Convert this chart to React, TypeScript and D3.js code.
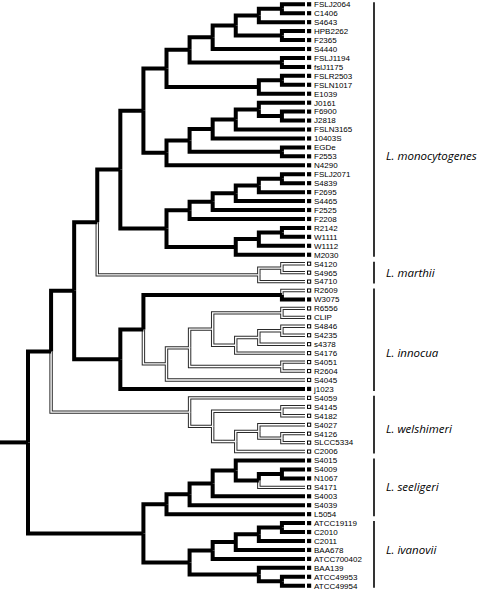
import React from 'react';
import * as d3 from 'd3';

// ---- Data: tree topology (Newick), clades ----
const monoA = "((((((FSLJ2064,C1406),S4643),(HPB2262,F2365)),S4440),(FSLJ1194,fslJ1175)),((FSLR2503,FSLN1017),E1039))";
const monoB = "(((((J0161,(F6900,J2818)),FSLN3165),10403S),(EGDe,F2553)),N4290)";
const monoC = "((((((FSLJ2071,S4839),F2695),S4465),F2525),F2208),(((R2142,W1111),W1112),M2030))";
const marthii = "((S4120,S4965),S4710)";
const innocua = "(((R2609,W3075),((((R6556,CLIP),(((S4846,S4235),s4378),S4176)),(S4051,R2604)),S4045)),j1023)";
const welshimeri = "(S4059,((S4145,S4182),((S4027,(S4126,SLCC5334)),C2006)))";
const seeligeri = "((((S4015,((S4009,N1067),S4171)),S4003),S4039),L5054)";
const ivanovii = "(((((ATCC19119,C2010),C2011),BAA678),ATCC700402),(BAA139,(ATCC49953,ATCC49954)))";

const treeNewick = `((((((${monoA},${monoB}),${monoC}),${marthii}),${innocua}),${welshimeri}),(${seeligeri},${ivanovii}))`;

// strains shown with open squares (others filled)
const openLeaves = [
  "S4120", "S4965", "S4710", "R2609", "R6556", "CLIP", "S4846", "S4235", "s4378", "S4176",
  "S4051", "R2604", "S4045", "S4059", "S4145", "S4182", "S4027", "S4126", "SLCC5334", "C2006", "S4171",
];

// species brackets: first leaf, last leaf, label anchor leaves
const speciesNames = ["L. monocytogenes", "L. marthii", "L. innocua", "L. welshimeri", "L. seeligeri", "L. ivanovii"];
const speciesFirst = ["FSLJ2064", "S4120", "R2609", "S4059", "S4015", "ATCC19119"];
const speciesLast = ["M2030", "S4710", "j1023", "C2006", "L5054", "ATCC49954"];
const speciesLabelAt = [["F2553"], ["S4965"], ["S4176"], ["S4027", "S4126"], ["S4171"], ["BAA678"]];

type TNode = { name?: string; children?: TNode[] };

function parseNewick(s: string): TNode {
  let i = 0;
  function node(): TNode {
    if (s[i] === '(') {
      i++;
      const children: TNode[] = [];
      while (true) {
        children.push(node());
        if (s[i] === ',') { i++; continue; }
        if (s[i] === ')') { i++; break; }
        break;
      }
      return { children };
    }
    let name = '';
    while (i < s.length && !',()'.includes(s[i])) name += s[i++];
    return { name: name.trim() };
  }
  return node();
}

const W = 480;
const H = 591;
const rootX = 28;
const tipX = 305;
const treeH = 590.4;

export default function App() {
  const openSet = new Set(openLeaves);
  const root = d3.hierarchy<TNode>(parseNewick(treeNewick));
  d3.cluster<TNode>().size([treeH, tipX - rootX]).separation(() => 1)(root);

  const hx = (d: any) => rootX + d.y;
  const vy = (d: any) => d.x - 0.2;

  const leaves = root.leaves();
  const leafY: Record<string, number> = {};
  leaves.forEach((l) => { leafY[l.data.name as string] = vy(l); });

  const links = root.descendants().filter((d) => d.parent);
  const isThin = (d: any) => d.leaves().every((l: any) => openSet.has(l.data.name));
  const pathOf = (d: any) => `M${hx(d.parent)},${vy(d.parent)}V${vy(d)}H${hx(d)}`;

  const thin = links.filter(isThin);
  const thick = links.filter((d) => !isThin(d));

  return (
    <svg width={W} height={H} style={{ position: 'absolute', left: 0, top: 0, background: '#fff' }}>
      <g fill="none" strokeLinejoin="miter" strokeLinecap="butt">
        {thin.map((d, i) => (
          <path key={'to' + i} d={pathOf(d)} stroke="#2a2a2a" strokeWidth={3.4} />
        ))}
        {thin.map((d, i) => (
          <path key={'ti' + i} d={pathOf(d)} stroke="#fff" strokeWidth={1.4} />
        ))}
        {thick.map((d, i) => (
          <path key={'tk' + i} d={pathOf(d)} stroke="#000" strokeWidth={4} />
        ))}
        <path d={`M0,${vy(root)}H${hx(root)}`} stroke="#000" strokeWidth={4} />
      </g>
      <g>
        {leaves.map((l, i) => {
          const name = l.data.name as string;
          const y = vy(l);
          const open = openSet.has(name);
          return (
            <g key={'lf' + i}>
              {open ? (
                <rect x={307.5} y={y - 1.6} width={3.2} height={3.2} fill="#fff" stroke="#000" strokeWidth={1} />
              ) : (
                <rect x={307} y={y - 2.1} width={4.2} height={4.2} fill="#000" />
              )}
              <text x={314} y={y} dy="0.36em" fontFamily="'Liberation Sans', Arial, sans-serif" fontSize={8} fill="#000">
                {name}
              </text>
            </g>
          );
        })}
      </g>
      <g>
        {speciesNames.map((s, i) => {
          const y0 = leafY[speciesFirst[i]] - 2;
          const y1 = leafY[speciesLast[i]] + 2;
          const ly = d3.mean(speciesLabelAt[i].map((n) => leafY[n])) as number;
          return (
            <g key={'sp' + i}>
              <line x1={374} x2={374} y1={y0} y2={y1} stroke="#000" strokeWidth={1.6} />
              <text x={386} y={ly} dy="0.35em" fontFamily="'Open Sans', 'Noto Sans', sans-serif" fontStyle="italic" fontSize={11.5} fill="#000">
                {s}
              </text>
            </g>
          );
        })}
      </g>
    </svg>
  );
}
